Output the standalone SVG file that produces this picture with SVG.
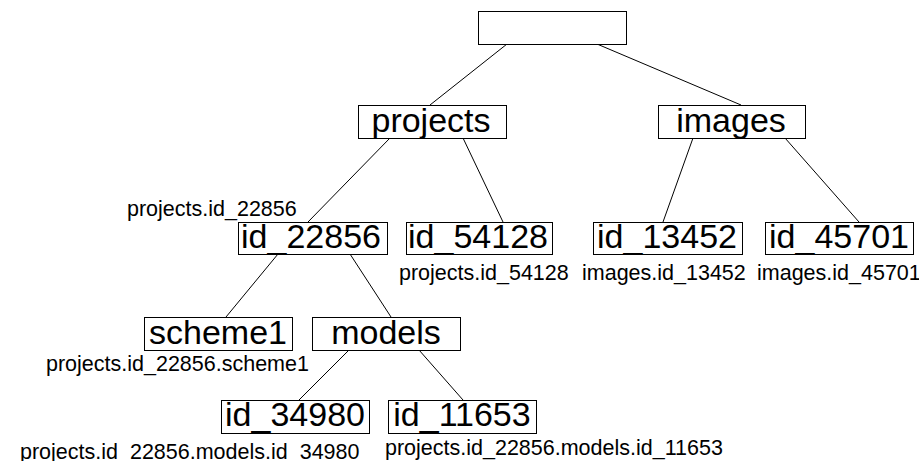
<svg xmlns="http://www.w3.org/2000/svg" width="919" height="461" viewBox="0 0 919 461">
<style>
.box{fill:#fff;stroke:#000;stroke-width:1}
.name{font-family:"Liberation Sans",Arial,sans-serif;font-size:34px;fill:#000;text-anchor:middle}
.lbl{font-family:"Liberation Sans",Arial,sans-serif;font-size:21.5px;fill:#000}
.edge{stroke:#000;stroke-width:1;fill:none}
</style>
<rect width="919" height="461" fill="#fff"/>
<g id="connectors">
<line class="edge" x1="507" y1="44" x2="430" y2="105"/>
<line class="edge" x1="597" y1="44" x2="741" y2="105"/>
<line class="edge" x1="390" y1="138" x2="308" y2="222"/>
<line class="edge" x1="463" y1="138" x2="503" y2="222"/>
<line class="edge" x1="693" y1="138" x2="663" y2="222"/>
<line class="edge" x1="785" y1="138" x2="859" y2="222"/>
<line class="edge" x1="278" y1="254" x2="226" y2="317"/>
<line class="edge" x1="350" y1="254" x2="391" y2="317"/>
<line class="edge" x1="349" y1="350" x2="299" y2="400"/>
<line class="edge" x1="419" y1="350" x2="463" y2="400"/>
</g>
<g id="root"><rect class="box" x="478.5" y="11.5" width="148" height="33"/></g>
<g id="projects"><rect class="box" x="358.5" y="105.5" width="148" height="33"/><text class="name" x="431" y="132">projects</text></g>
<g id="images"><rect class="box" x="658.5" y="105.5" width="147" height="33"/><text class="name" x="731" y="132">images</text></g>
<g id="id_22856"><rect class="box" x="238.5" y="222.5" width="149" height="32"/><text class="name" x="311" y="248">id_22856</text><text class="lbl" x="127" y="216">projects.id_22856</text></g>
<g id="id_54128"><rect class="box" x="406.5" y="222.5" width="146" height="32"/><text class="name" x="478" y="248">id_54128</text><text class="lbl" x="399" y="280">projects.id_54128</text></g>
<g id="id_13452"><rect class="box" x="593.5" y="222.5" width="149" height="32"/><text class="name" x="667" y="248">id_13452</text><text class="lbl" x="582" y="280">images.id_13452</text></g>
<g id="id_45701"><rect class="box" x="765.5" y="222.5" width="148" height="32"/><text class="name" x="839" y="248">id_45701</text><text class="lbl" x="757" y="280">images.id_45701</text></g>
<g id="scheme1"><rect class="box" x="144.5" y="317.5" width="148" height="33"/><text class="name" x="218" y="344">scheme1</text><text class="lbl" x="46" y="371">projects.id_22856.scheme1</text></g>
<g id="models"><rect class="box" x="312.5" y="317.5" width="148" height="33"/><text class="name" x="386" y="344">models</text></g>
<g id="id_34980"><rect class="box" x="221.5" y="400.5" width="148" height="33"/><text class="name" x="295" y="426">id_34980</text><text class="lbl" x="20" y="459">projects.id_22856.models.id_34980</text></g>
<g id="id_11653"><rect class="box" x="388.5" y="400.5" width="148" height="33"/><text class="name" x="462" y="426">id_11653</text><text class="lbl" x="385" y="455">projects.id_22856.models.id_11653</text></g>
</svg>
